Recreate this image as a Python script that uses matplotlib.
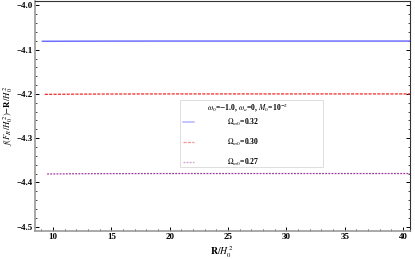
import matplotlib
matplotlib.use("Agg")
import matplotlib.pyplot as plt
from matplotlib.ticker import MultipleLocator, FuncFormatter
from matplotlib.patches import Rectangle

plt.rcParams['font.family'] = ['Liberation Serif', 'DejaVu Serif']
plt.rcParams['mathtext.fontset'] = 'stix'

# data
r_blue = [9.1, 12.0, 15.0, 20.0, 25.0, 30.0, 35.0, 40.6]
f_blue = [-4.081, -4.0808, -4.0806, -4.0805, -4.0805, -4.0805, -4.0805, -4.0805]
r_red = [9.3, 12.0, 15.0, 20.0, 25.0, 30.0, 35.0, 40.6]
f_red = [-4.201, -4.2005, -4.2002, -4.2, -4.2, -4.2, -4.2, -4.2]
r_pur = [9.5, 12.0, 15.0, 20.0, 25.0, 30.0, 35.0, 40.6]
f_pur = [-4.381, -4.3805, -4.3802, -4.38, -4.38, -4.38, -4.38, -4.38]
labels = [r'$\Omega_{m0}$=0.32', r'$\Omega_{m0}$=0.30', r'$\Omega_{m0}$=0.27']
legend_title = r'$\omega_0$=$-$1.0, $\omega_a$=0, $M_0$=10$^{-2}$'

fig = plt.figure(figsize=(4.15, 2.59), dpi=100)
ax = fig.add_axes([0.084, 0.108, 0.904, 0.888])

ax.plot(r_blue, f_blue, color='#6f6fff', lw=1.1, label=labels[0], zorder=3)
ax.plot(r_red, f_red, color='#ee2a2a', lw=0.9, ls=(0, (2.5, 1)), label=labels[1], zorder=3)
ax.plot(r_pur, f_pur, color='#a03aa0', lw=0.9, ls=(0, (1.5, 1)), label=labels[2], zorder=3)

ax.set_xlim(8.45, 40.6)
ax.set_ylim(-4.51, -3.99)
ax.xaxis.set_major_locator(MultipleLocator(5))
ax.xaxis.set_minor_locator(MultipleLocator(1))
ax.yaxis.set_major_locator(MultipleLocator(0.1))
ax.yaxis.set_minor_locator(MultipleLocator(0.02))
ax.tick_params(which='both', direction='in', right=True, top=False, labelsize=6.5, pad=1.5)
ax.tick_params(which='major', length=3, width=0.7)
ax.tick_params(which='minor', length=1.5, width=0.5)
ax.yaxis.set_major_formatter(FuncFormatter(lambda v, p: ('%.1f' % v).replace('-', '\u2212')))
for lab in ax.get_xticklabels() + ax.get_yticklabels():
    lab.set_fontweight('bold')

for s in ['left', 'bottom']:
    ax.spines[s].set_color('#999999')
    ax.spines[s].set_linewidth(1.2)
for s in ['right', 'top']:
    ax.spines[s].set_color('#333333')
    ax.spines[s].set_linewidth(0.8)

ax.set_xlabel(r'$\mathbf{R}/H_0^{\,2}$', fontsize=7, labelpad=2)
ax.set_ylabel(r'$f(F_R/H_0^{\,2})$$-$$\mathbf{R}/H_0^{\,2}$', fontsize=6.3, labelpad=1)

# legend box
ax.add_patch(Rectangle((0.387, 0.278), 0.381, 0.292, transform=ax.transAxes,
                       facecolor='white', edgecolor='#dddddd', lw=0.7, zorder=4))
ax.text(0.566, 0.535, legend_title, transform=ax.transAxes, ha='center', va='center',
        fontsize=5.5, fontweight='bold', zorder=5)
leg = ax.legend(loc='center left', bbox_to_anchor=(0.395, 0.386), frameon=False,
                handlelength=1.4, handletextpad=4.3, labelspacing=1.15,
                borderpad=0, borderaxespad=0, prop={'weight': 'bold', 'size': 5.5})
leg.set_zorder(6)
for h in leg.legend_handles:
    h.set_alpha(0.5)

fig.savefig('out.png', dpi=100)
